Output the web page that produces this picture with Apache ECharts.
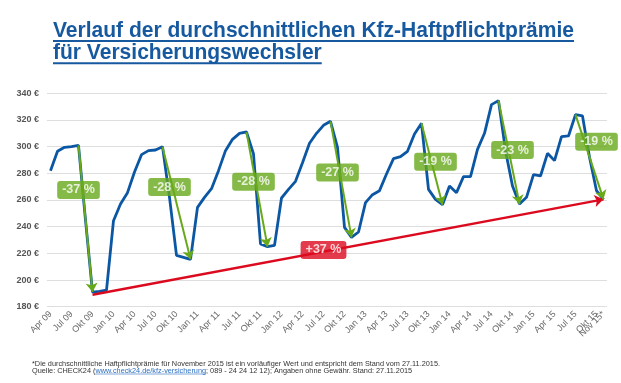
<!DOCTYPE html>
<html><head><meta charset="utf-8">
<script src="https://cdn.jsdelivr.net/npm/echarts@6/dist/echarts.min.js"></script>
<style>html,body{margin:0;padding:0;background:#fff}#c{width:621px;height:383px}</style>
</head><body><div id="c"></div>
<script>
// ---- data ----
const categories = [
 'Apr 09','Mai 09','Jun 09','Jul 09','Aug 09','Sep 09','Okt 09','Nov 09','Dez 09',
 'Jan 10','Feb 10','Mär 10','Apr 10','Mai 10','Jun 10','Jul 10','Aug 10','Sep 10','Okt 10','Nov 10','Dez 10',
 'Jan 11','Feb 11','Mär 11','Apr 11','Mai 11','Jun 11','Jul 11','Aug 11','Sep 11','Okt 11','Nov 11','Dez 11',
 'Jan 12','Feb 12','Mär 12','Apr 12','Mai 12','Jun 12','Jul 12','Aug 12','Sep 12','Okt 12','Nov 12','Dez 12',
 'Jan 13','Feb 13','Mär 13','Apr 13','Mai 13','Jun 13','Jul 13','Aug 13','Sep 13','Okt 13','Nov 13','Dez 13',
 'Jan 14','Feb 14','Mär 14','Apr 14','Mai 14','Jun 14','Jul 14','Aug 14','Sep 14','Okt 14','Nov 14','Dez 14',
 'Jan 15','Feb 15','Mär 15','Apr 15','Mai 15','Jun 15','Jul 15','Aug 15','Sep 15','Okt 15','Nov 15*'
];
const premium = [
 282,296.5,299.5,300,301,245,191,191.5,192.5,
 244.5,257,265.5,281,294,297,297.5,300,262,218.5,217,215.5,
 254.5,262,268.5,282,297,305.5,310,311,294.5,227,225,226,
 261.5,268,274,288,302.5,310,316,319,299.5,239.5,232,236,
 258,264,267,279.5,291,292.5,296.5,309.5,317.5,268,260.5,256.5,
 270.5,265.5,277.5,277.5,298,310,331.5,334.5,297,270.5,257,262,
 279,278,295,289.5,307.5,308,324,323,292,267,260.5
];
const yTicks = [180,200,220,240,260,280,300,320,340];
// seasonal drops: start index, end index, text, label anchor [index, value]
const dropStart = [4,16,28,40,53,64,75];
const dropEnd   = [6,20,31,43,56,67,79];
const dropText  = ['-37 %','-28 %','-28 %','-27 %','-19 %','-23 %','-19 %'];
const dropLabelAt = [[4.0,267.5],[16.9,269.7],[29.1,273.7],[40.9,280.7],[54.5,288.6],[65.7,297.4],[77.5,303.6]];
// overall rise
const riseStart = 6, riseEnd = 79, riseText = '+37 %', riseLabelAt = [39.3,222.6];
const riseStartValue = 189;

const titleLines = ['Verlauf der durchschnittlichen Kfz-Haftpflichtprämie','für Versicherungswechsler'];
const foot1 = '*Die durchschnittliche Haftpflichtprämie für November 2015 ist ein vorläufiger Wert und entspricht dem Stand vom 27.11.2015.';
const foot2a = 'Quelle: CHECK24 (';
const foot2b = 'www.check24.de/kfz-versicherung';
const foot2c = '; 089 - 24 24 12 12); Angaben ohne Gewähr. Stand: 27.11.2015';

// ---- styles ----
const BLUE = '#0b57a4', TITLE = '#17599f', GREEN = '#68a91a', RED = '#dc0a1e';
const FF = '"Liberation Sans", Arial, sans-serif';

const cv = document.createElement('canvas').getContext('2d');
function tw(t, font){ cv.font = font; return cv.measureText(t).width; }

const titleFont = 'bold 22px ' + FF;
const titleScale = 521 / tw(titleLines[0], titleFont);
const footFont = '6.5px ' + FF;
const footScale = 408 / tw(foot1, footFont);

const graphics = [];
const titleY = [31, 53.3];
titleLines.forEach((t,k)=>{
  graphics.push({type:'text', x:53, y:titleY[k], scaleX:titleScale,
    style:{text:t, font:titleFont, fill:TITLE, verticalAlign:'middle', textAlign:'left'}});
  graphics.push({type:'line', shape:{x1:53, y1:titleY[k]+10, x2:53+tw(t,titleFont)*titleScale, y2:titleY[k]+10},
    style:{stroke:TITLE, lineWidth:2}});
});
graphics.push({type:'text', x:32, y:364, scaleX:footScale, style:{text:foot1, font:footFont, fill:'#333', verticalAlign:'middle'}});
const wA = tw(foot2a, footFont)*footScale, wB = tw(foot2b, footFont)*footScale;
graphics.push({type:'text', x:32, y:371, scaleX:footScale, style:{text:foot2a, font:footFont, fill:'#333', verticalAlign:'middle'}});
graphics.push({type:'text', x:32+wA, y:371, scaleX:footScale, style:{text:foot2b, font:footFont, fill:'#2a6fc0', verticalAlign:'middle'}});
graphics.push({type:'line', shape:{x1:32+wA, y1:374, x2:32+wA+wB, y2:374}, style:{stroke:'#2a6fc0', lineWidth:0.6}});
graphics.push({type:'text', x:32+wA+wB, y:371, scaleX:footScale, style:{text:foot2c, font:footFont, fill:'#333', verticalAlign:'middle'}});

const markData = dropStart.map((s,k)=>[
  {coord:[s, premium[s]], lineStyle:{color:GREEN, width:2, type:'solid'}, itemStyle:{color:GREEN}},
  {coord:[dropEnd[k], premium[dropEnd[k]]], itemStyle:{color:GREEN}}
]);
markData.unshift([
  {coord:[riseStart, riseStartValue], lineStyle:{color:RED, width:2.4, type:'solid'}, itemStyle:{color:RED}},
  {coord:[riseEnd, premium[riseEnd]], itemStyle:{color:RED}}
]);

const labelData = dropLabelAt.map((p,k)=>({value:p, label:{formatter:dropText[k], backgroundColor:GREEN}}));
labelData.push({value:riseLabelAt, label:{formatter:riseText, backgroundColor:RED}});

const lastIdx = categories.length - 1;
const xLabelBase = {rotate:45, fontSize:9, color:'#666', fontFamily:FF, margin:6, hideOverlap:false};
const chart = echarts.init(document.getElementById('c'), null, {renderer:'canvas'});
chart.setOption({
  animation:false,
  backgroundColor:'#fff',
  grid:{left:47, right:14, top:93.3, bottom:76.3, containLabel:false},
  xAxis:[
   {type:'category', data:categories, boundaryGap:true, position:'bottom',
    axisLine:{show:false}, axisTick:{show:false}, splitLine:{show:false},
    axisLabel:Object.assign({interval:(i)=> i%3===0, showMinLabel:true, showMaxLabel:true}, xLabelBase)},
   {type:'category', data:categories, boundaryGap:true, position:'bottom', offset:0,
    axisLine:{show:false}, axisTick:{show:false}, splitLine:{show:false},
    axisLabel:Object.assign({interval:(i)=> i===lastIdx, showMinLabel:true, showMaxLabel:true}, xLabelBase)}
  ],
  yAxis:{type:'value', min:yTicks[0], max:yTicks[yTicks.length-1], interval:20,
    axisLine:{show:false}, axisTick:{show:false},
    splitLine:{lineStyle:{color:'#dedede', width:1}},
    axisLabel:{formatter:'{value} €', fontSize:9, fontWeight:'bold', color:'#555', fontFamily:FF, margin:8}},
  series:[
    {type:'line', data:premium, symbol:'none', lineStyle:{color:BLUE, width:2.8}, itemStyle:{color:BLUE}, z:2,
     markLine:{silent:true, symbol:['none','arrow'], symbolSize:9, label:{show:false}, animation:false,
       lineStyle:{type:'solid'}, emphasis:{disabled:true}, data:markData}},
    {type:'scatter', data:labelData, symbolSize:1, itemStyle:{color:'rgba(0,0,0,0)'}, z:10, silent:true,
     label:{show:true, position:'inside', color:'#fff', fontSize:12.5, fontWeight:'bold', fontFamily:FF,
       padding:[3,5,2,5], borderRadius:3, textBorderWidth:0}}
  ],
  graphic:graphics
});
</script></body></html>
